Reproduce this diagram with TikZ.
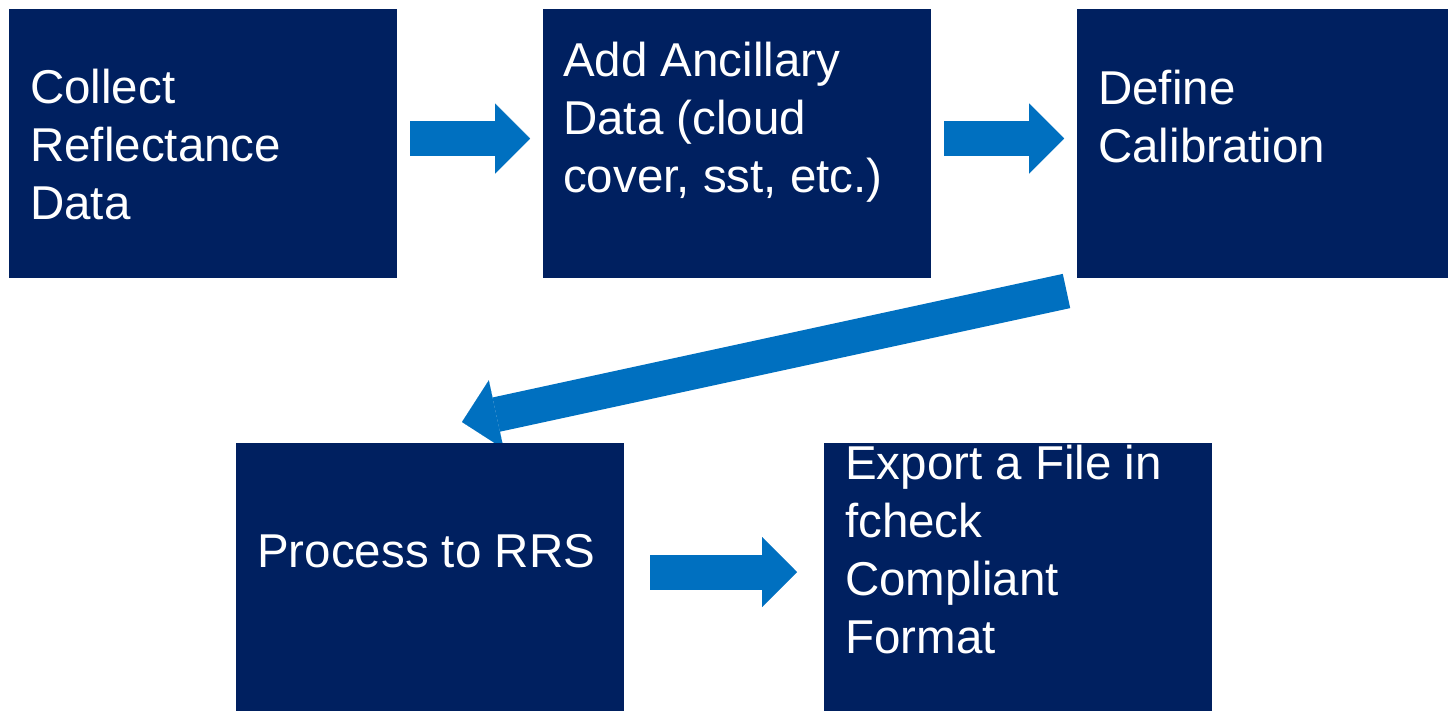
\documentclass[tikz,border=0pt]{standalone}
\usepackage{fontspec}
\setmainfont{Liberation Sans}
\usetikzlibrary{arrows.meta,calc,backgrounds}

\definecolor{boxnavy}{HTML}{002060}
\definecolor{flowblue}{HTML}{0070C0}

\tikzset{
  stepbox/.style={fill=boxnavy, draw=none, minimum width=388pt, minimum height=269pt,
    inner sep=0pt, outer sep=0pt},
  % anchored at the baseline of the last line
  boxtext/.style={text=white, align=left, inner sep=0pt, anchor=base west,
    font=\fontsize{47.5pt}{57.8pt}\selectfont},
  flow/.style={draw=flowblue, line width=35pt, line cap=butt,
    -{Triangle[length=35pt, width=70pt, line width=0.01pt, color=flowblue]}},
}

\begin{document}
\begin{tikzpicture}[x=1pt, y=-1pt]
  \useasboundingbox (0,0) rectangle (1448,710);
  \clip (0,0) rectangle (1448,710);

  % process steps
  \node[stepbox] (b1) at (203,143.5)  {};
  \node[stepbox] (b2) at (737,143.5)  {};
  \node[stepbox] (b3) at (1271,143.5) {};
  \node[stepbox] (b4) at (430,577.5)  {};
  \node[stepbox] (b5) at (1018,577.5) {};

  % step labels
  \node[boxtext] (t1) at (30,219.5)  {Collect\\Reflectance\\Data};
  \node[boxtext] (t2) at (563,192.5) {Add Ancillary\\Data (cloud\\cover, sst, etc.)};
  \node[boxtext] (t3) at (1098,162)  {Define\\Calibration};
  \node[boxtext] (t4) at (257,567)   {Process to RRS};
  \node[boxtext] (t5) at (845,653)   {Export a File in\\fcheck\\Compliant\\Format};

  % block arrows between the steps, kept behind the boxes
  \begin{scope}[on background layer]
    \fill[white] (0,0) rectangle (1448,710);
    \draw[flow] ($(b1.east)+(13,-5)$) -- ($(b2.west)+(-13,-5)$);
    \draw[flow] ($(b2.east)+(13,-5)$) -- ($(b3.west)+(-13,-5)$);
    \draw[flow] ($(b3.south west)+(-10.5,13)$) -- ($(b4.north west)+(226,-21)$);
    \draw[flow] ($(b4.east)+(26,-5.5)$) -- ($(b5.west)+(-27,-5.5)$);
  \end{scope}
\end{tikzpicture}
\end{document}
